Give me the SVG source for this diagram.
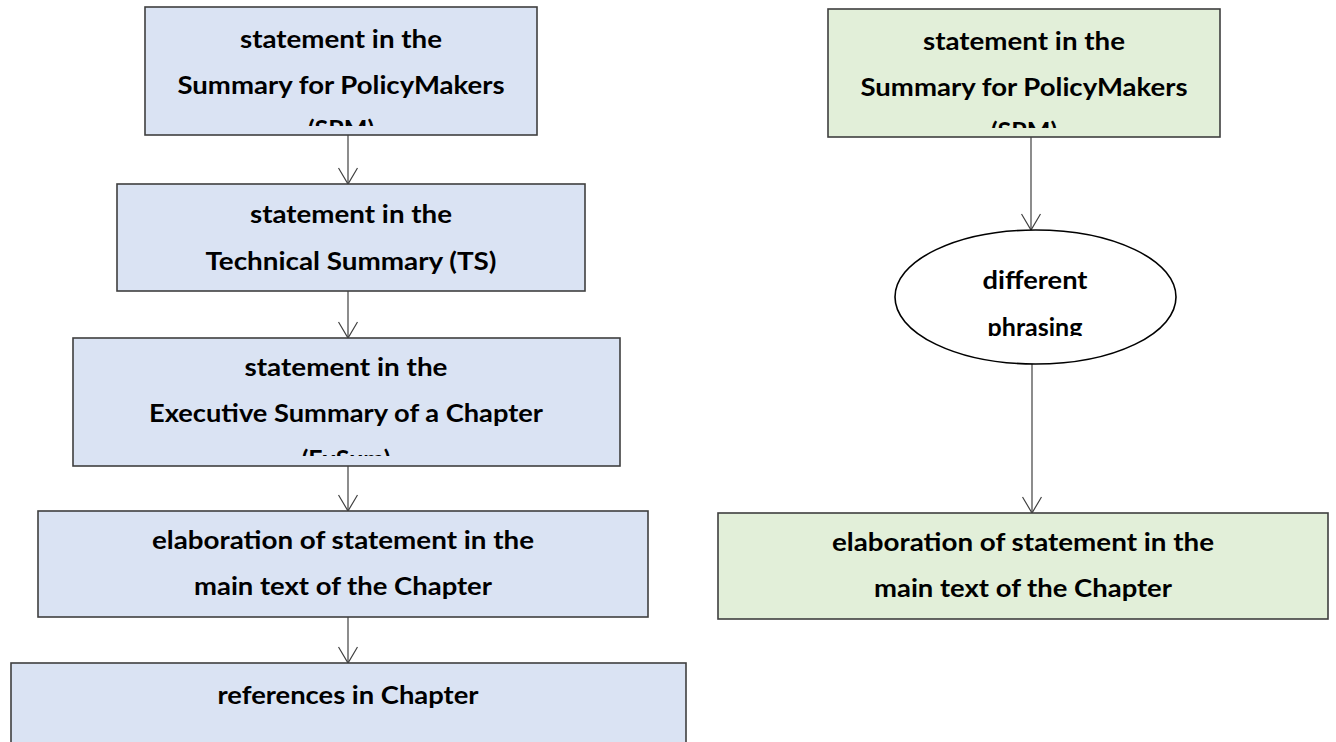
<svg xmlns="http://www.w3.org/2000/svg" width="1336" height="742" viewBox="0 0 1336 742">
<style>
.box{stroke:#3f3f3f;stroke-width:1.6}
.blue{fill:#dae3f3}
.green{fill:#e2efd9}
.ell{fill:#ffffff;stroke:#000000;stroke-width:1.6}
.t{font-family:Lato,"Open Sans","Liberation Sans",sans-serif;font-weight:bold;font-size:25px;fill:#000000;text-anchor:middle}
.c{stroke:#404040;stroke-width:1.2;fill:none}
</style>
<defs>
<marker id="ah" markerWidth="22" markerHeight="20" refX="19" refY="10" orient="auto" markerUnits="userSpaceOnUse">
<path d="M3,0.5 L19,10 L3,19.5" fill="none" stroke="#404040" stroke-width="1.2"/>
</marker>
<clipPath id="cp1"><rect x="145" y="7" width="392" height="119"/></clipPath>
<clipPath id="cp3"><rect x="73" y="338" width="547" height="118"/></clipPath>
<clipPath id="cpr1"><rect x="828" y="9" width="392" height="119"/></clipPath>
<clipPath id="cpe"><rect x="895" y="230" width="281" height="106"/></clipPath>
</defs>

<g id="connectors">
<line class="c" x1="348" y1="135" x2="348" y2="184" marker-end="url(#ah)"/>
<line class="c" x1="348" y1="291" x2="348" y2="338" marker-end="url(#ah)"/>
<line class="c" x1="348" y1="466" x2="348" y2="511" marker-end="url(#ah)"/>
<line class="c" x1="348" y1="617" x2="348" y2="663" marker-end="url(#ah)"/>
<line class="c" x1="1031" y1="137" x2="1031" y2="230" marker-end="url(#ah)"/>
<line class="c" x1="1032" y1="364" x2="1032" y2="513" marker-end="url(#ah)"/>
</g>

<g id="spm-left">
<rect class="box blue" x="145" y="7" width="392" height="128"/>
<g clip-path="url(#cp1)">
<text class="t" x="341" y="48" textLength="202" lengthAdjust="spacingAndGlyphs">statement in the</text>
<text class="t" x="341" y="94" textLength="327" lengthAdjust="spacingAndGlyphs">Summary for PolicyMakers</text>
<text class="t" x="341" y="138">(SPM)</text>
</g>
</g>

<g id="ts">
<rect class="box blue" x="117" y="184" width="468" height="107"/>
<text class="t" x="351" y="223" textLength="202" lengthAdjust="spacingAndGlyphs">statement in the</text>
<text class="t" x="351" y="270" textLength="291" lengthAdjust="spacingAndGlyphs">Technical Summary (TS)</text>
</g>

<g id="exsum">
<rect class="box blue" x="73" y="338" width="547" height="128"/>
<g clip-path="url(#cp3)">
<text class="t" x="346" y="376" textLength="203" lengthAdjust="spacingAndGlyphs">statement in the</text>
<text class="t" x="346" y="422" textLength="394" lengthAdjust="spacingAndGlyphs">Executive Summary of a Chapter</text>
<text class="t" x="346" y="468">(ExSum)</text>
</g>
</g>

<g id="main-left">
<rect class="box blue" x="38" y="511" width="610" height="106"/>
<text class="t" x="343" y="549" textLength="382" lengthAdjust="spacingAndGlyphs">elaboration of statement in the</text>
<text class="t" x="343" y="595" textLength="298" lengthAdjust="spacingAndGlyphs">main text of the Chapter</text>
</g>

<g id="refs">
<rect class="box blue" x="11" y="663" width="675" height="90"/>
<text class="t" x="348" y="704" textLength="261" lengthAdjust="spacingAndGlyphs">references in Chapter</text>
</g>

<g id="spm-right">
<rect class="box green" x="828" y="9" width="392" height="128"/>
<g clip-path="url(#cpr1)">
<text class="t" x="1024" y="50" textLength="202" lengthAdjust="spacingAndGlyphs">statement in the</text>
<text class="t" x="1024" y="96" textLength="327" lengthAdjust="spacingAndGlyphs">Summary for PolicyMakers</text>
<text class="t" x="1024" y="140">(SPM)</text>
</g>
</g>

<g id="phrasing">
<ellipse class="ell" cx="1035.5" cy="297" rx="140.5" ry="67"/>
<g clip-path="url(#cpe)">
<text class="t" x="1035" y="289" textLength="105" lengthAdjust="spacingAndGlyphs">different</text>
<text class="t" x="1035" y="336">phrasing</text>
</g>
</g>

<g id="main-right">
<rect class="box green" x="718" y="513" width="610" height="106"/>
<text class="t" x="1023" y="551" textLength="382" lengthAdjust="spacingAndGlyphs">elaboration of statement in the</text>
<text class="t" x="1023" y="597" textLength="298" lengthAdjust="spacingAndGlyphs">main text of the Chapter</text>
</g>
</svg>
